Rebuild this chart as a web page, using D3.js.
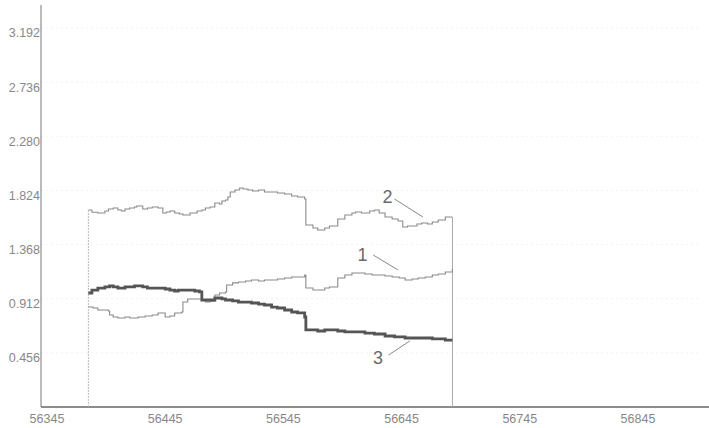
<!DOCTYPE html>
<html>
<head>
<meta charset="utf-8">
<script src="https://cdn.jsdelivr.net/npm/d3@7"></script>
<style>
  body { margin: 0; background: #fff; }
  .tick-label { font-family: "Liberation Sans", Arial, sans-serif; font-size: 12.5px; fill: #888; }
  .series-label { font-family: "Liberation Sans", Arial, sans-serif; font-size: 18px; fill: #6a6a6a; }
</style>
</head>
<body>
<div class="chart"></div>
<script>
/* tick labels */
const xTicks = [56345, 56445, 56545, 56645, 56745, 56845];
const yTicks = [0.456, 0.912, 1.368, 1.824, 2.280, 2.736, 3.192];

/* series 1 (thin, middle) */
const series1 = [
  [56380, 0.842], [56384, 0.834], [56388, 0.817], [56394, 0.817], [56397, 0.808],
  [56398, 0.775], [56401, 0.758], [56405, 0.750], [56411, 0.758], [56415, 0.750],
  [56422, 0.758], [56428, 0.767], [56434, 0.775], [56439, 0.792], [56445, 0.758],
  [56449, 0.767], [56453, 0.792], [56457, 0.792], [56459, 0.800], [56460, 0.884],
  [56464, 0.910], [56470, 0.910], [56476, 0.901], [56479, 0.884], [56483, 0.892],
  [56487, 0.943], [56491, 0.960], [56496, 0.969], [56497, 1.028], [56502, 1.045],
  [56507, 1.053], [56513, 1.061], [56518, 1.070], [56524, 1.061], [56529, 1.070],
  [56535, 1.070], [56540, 1.078], [56546, 1.087], [56552, 1.095], [56557, 1.095],
  [56563, 1.112], [56564, 1.002], [56570, 0.985], [56574, 0.985], [56580, 1.002],
  [56584, 1.011], [56591, 1.087], [56597, 1.112], [56603, 1.129], [56609, 1.129],
  [56614, 1.120], [56620, 1.112], [56625, 1.112], [56631, 1.103], [56637, 1.095],
  [56643, 1.087], [56648, 1.070], [56654, 1.078], [56659, 1.087], [56665, 1.095],
  [56671, 1.112], [56676, 1.120], [56682, 1.137], [56688, 1.162]
];

/* series 2 (thin, top) */
const series2 = [
  [56380, 1.659], [56383, 1.640], [56388, 1.634], [56394, 1.651], [56397, 1.668],
  [56401, 1.676], [56405, 1.659], [56408, 1.651], [56411, 1.668], [56415, 1.676],
  [56419, 1.685], [56421, 1.693], [56426, 1.668], [56430, 1.676], [56434, 1.685],
  [56439, 1.676], [56443, 1.634], [56446, 1.642], [56449, 1.651], [56453, 1.634],
  [56457, 1.626], [56460, 1.617], [56466, 1.634], [56472, 1.651], [56476, 1.659],
  [56479, 1.676], [56483, 1.685], [56487, 1.718], [56491, 1.710], [56493, 1.735],
  [56496, 1.743], [56498, 1.769], [56500, 1.811], [56504, 1.828], [56508, 1.845],
  [56511, 1.836], [56515, 1.828], [56519, 1.819], [56524, 1.828], [56529, 1.811],
  [56535, 1.811], [56540, 1.802], [56546, 1.794], [56552, 1.777], [56557, 1.769],
  [56563, 1.752], [56564, 1.533], [56570, 1.508], [56574, 1.491], [56580, 1.508],
  [56584, 1.525], [56591, 1.583], [56597, 1.617], [56603, 1.634], [56606, 1.642],
  [56611, 1.634], [56614, 1.634], [56618, 1.651], [56622, 1.659], [56626, 1.634],
  [56631, 1.600], [56637, 1.583], [56642, 1.567], [56646, 1.516], [56650, 1.525],
  [56654, 1.525], [56658, 1.541], [56662, 1.550], [56667, 1.541], [56671, 1.558],
  [56676, 1.575], [56682, 1.600], [56688, 1.600]
];

/* series 3 (thick, bottom) */
const series3 = [
  [56380, 0.960], [56383, 0.985], [56388, 1.002], [56394, 1.011], [56398, 1.020],
  [56401, 1.011], [56405, 1.002], [56411, 1.011], [56415, 1.011], [56419, 1.020],
  [56426, 1.011], [56430, 1.002], [56434, 1.002], [56439, 1.002], [56445, 0.994],
  [56449, 0.985], [56453, 0.977], [56456, 0.985], [56460, 0.985], [56466, 0.985],
  [56470, 0.977], [56474, 0.969], [56476, 0.901], [56483, 0.901], [56487, 0.918],
  [56493, 0.910], [56496, 0.901], [56502, 0.893], [56507, 0.884], [56513, 0.884],
  [56518, 0.876], [56524, 0.867], [56529, 0.859], [56535, 0.842], [56540, 0.834],
  [56546, 0.817], [56552, 0.800], [56557, 0.792], [56563, 0.758], [56564, 0.649],
  [56574, 0.640], [56580, 0.649], [56591, 0.640], [56597, 0.632], [56606, 0.632],
  [56614, 0.623], [56622, 0.615], [56631, 0.598], [56639, 0.590], [56648, 0.581],
  [56659, 0.581], [56665, 0.581], [56671, 0.573], [56676, 0.573], [56682, 0.564],
  [56688, 0.564]
];

const seriesNames = ["1", "2", "3"];

/* numbered callouts: text spot and leader line, in data units */
const callouts = [
  { name: "1", tx: 56612, ty: 1.280, x1: 56621, y1: 1.280, x2: 56642, y2: 1.154 },
  { name: "2", tx: 56633, ty: 1.769, x1: 56639, y1: 1.752, x2: 56663, y2: 1.600 },
  { name: "3", tx: 56625, ty: 0.413, x1: 56634, y1: 0.438, x2: 56652, y2: 0.556 }
];

const width = 709, height = 428;
const axisLeft = 41, axisBottom = 407;

const svg = d3.select(".chart").append("svg")
    .attr("width", width)
    .attr("height", height);

const x = d3.scaleLinear().domain([56345, 56845]).range([47, 638]);
const y = d3.scaleLinear().domain([0, 3.192]).range([axisBottom, 28]);

// faint dotted grid
svg.append("g").selectAll("line")
    .data(yTicks)
    .enter().append("line")
    .attr("x1", axisLeft).attr("x2", width - 10)
    .attr("y1", d => y(d)).attr("y2", d => y(d))
    .attr("stroke", "#f2f2f2")
    .attr("stroke-dasharray", "2,3");

// y tick labels
svg.append("g").selectAll("text")
    .data(yTicks)
    .enter().append("text")
    .attr("class", "tick-label")
    .attr("x", axisLeft - 1)
    .attr("y", d => y(d) + 5)
    .attr("dy", "0.35em")
    .attr("text-anchor", "end")
    .text(d => d.toFixed(3));

// x tick labels
svg.append("g").selectAll("text")
    .data(xTicks)
    .enter().append("text")
    .attr("class", "tick-label")
    .attr("x", d => x(d))
    .attr("y", 423)
    .attr("text-anchor", "middle")
    .text(d => d);

// axes lines
svg.append("line")
    .attr("x1", axisLeft).attr("x2", axisLeft)
    .attr("y1", 5).attr("y2", axisBottom)
    .attr("stroke", "#777").attr("stroke-width", 1);
svg.append("line")
    .attr("x1", axisLeft).attr("x2", width)
    .attr("y1", axisBottom).attr("y2", axisBottom)
    .attr("stroke", "#666").attr("stroke-width", 1.5);

// vertical drop lines at start and end of the record
const first = series2[0], last = series2[series2.length - 1];
svg.append("line")
    .attr("x1", x(first[0])).attr("x2", x(first[0]))
    .attr("y1", y(first[1])).attr("y2", axisBottom)
    .attr("stroke", "#bbb").attr("stroke-dasharray", "2,1");
svg.append("line")
    .attr("x1", x(last[0])).attr("x2", x(last[0]))
    .attr("y1", y(last[1])).attr("y2", axisBottom)
    .attr("stroke", "#a8a8a8");

const line = d3.line()
    .x(d => x(d[0]))
    .y(d => y(d[1]))
    .curve(d3.curveStepAfter);

const seriesData = [series1, series2, series3];
const seriesStyle = [
  { color: "#8a8a8a", width: 1.1 },
  { color: "#8a8a8a", width: 1.1 },
  { color: "#555", width: 2.8 }
];

seriesData.forEach((s, i) => {
    svg.append("path")
        .datum(s)
        .attr("class", "series s" + seriesNames[i])
        .attr("fill", "none")
        .attr("stroke", seriesStyle[i].color)
        .attr("stroke-width", seriesStyle[i].width)
        .attr("d", line);
});

// callouts
const gCall = svg.append("g");
gCall.selectAll("line")
    .data(callouts)
    .enter().append("line")
    .attr("x1", d => x(d.x1)).attr("y1", d => y(d.y1))
    .attr("x2", d => x(d.x2)).attr("y2", d => y(d.y2))
    .attr("stroke", "#888").attr("stroke-width", 1);
gCall.selectAll("text")
    .data(callouts)
    .enter().append("text")
    .attr("class", "series-label")
    .attr("x", d => x(d.tx))
    .attr("y", d => y(d.ty))
    .attr("dy", "0.35em")
    .attr("text-anchor", "middle")
    .text(d => d.name);
</script>
</body>
</html>
